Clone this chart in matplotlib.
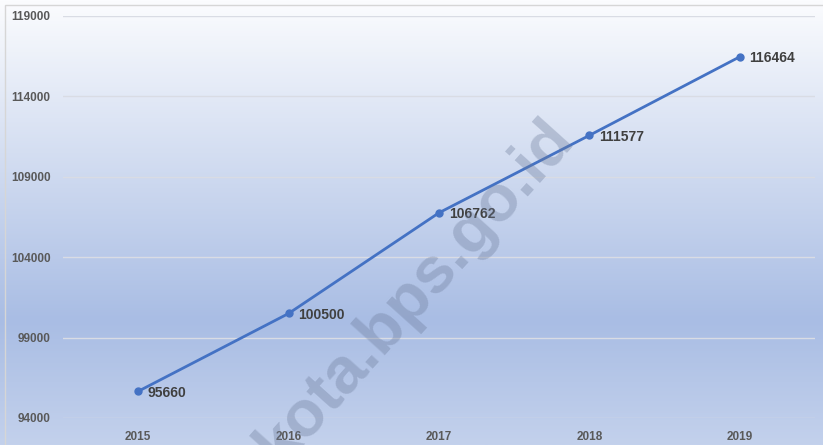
import matplotlib
matplotlib.use("Agg")
import matplotlib.pyplot as plt
from matplotlib.colors import LinearSegmentedColormap
from matplotlib.patches import Rectangle
import numpy as np

years = ["2015", "2016", "2017", "2018", "2019"]
values = [95660, 100500, 106762, 111577, 116464]
yticks = [94000, 99000, 104000, 109000, 114000, 119000]

W, H = 823, 445
fig = plt.figure(figsize=(W / 100, H / 100), dpi=100)

# background gradient over the whole figure
bg = fig.add_axes([0, 0, 1, 1], zorder=0)
cmap = LinearSegmentedColormap.from_list(
    "bg", [(0.0, "#fbfcfe"), (0.08, "#f2f5fb"), (0.72, "#a9bde4"), (1.0, "#c3d1ec")])
grad = np.linspace(0, 1, 256).reshape(-1, 1)
bg.imshow(grad, aspect="auto", cmap=cmap, extent=[0, 1, 0, 1], origin="upper")
bg.add_patch(Rectangle((5 / W, -0.01), 1, 1 - 5 / H + 0.01, fill=False,
                       edgecolor="#d6d6d6", linewidth=1))
bg.set_xlim(0, 1)
bg.set_ylim(0, 1)
bg.axis("off")

ax = fig.add_axes([63 / W, 1 - 418 / H, (815 - 63) / W, (418 - 16) / H], zorder=1)
ax.patch.set_alpha(0)
x = np.arange(len(years))
ax.plot(x, values, color="#4472C4", linewidth=2, marker="o", markersize=5, zorder=3)
for xi, v in zip(x, values):
    ax.annotate(str(v), (xi, v), xytext=(7, -1), textcoords="offset points",
                ha="left", va="center", fontsize=10, fontweight="bold",
                color="#404040", family="Liberation Sans", zorder=4)

ax.set_xlim(-0.5, len(years) - 0.5)
ax.set_ylim(yticks[0], yticks[-1])
ax.set_yticks(yticks)
ax.set_yticklabels([str(t) for t in yticks])
ax.set_xticks(x)
ax.set_xticklabels(years)
for lab in ax.get_xticklabels() + ax.get_yticklabels():
    lab.set_family("Liberation Sans")
    lab.set_fontweight("bold")
    lab.set_fontsize(8.5)
    lab.set_color("#595959")
ax.tick_params(length=0)
ax.tick_params(axis="y", pad=9)
ax.tick_params(axis="x", pad=9)
ax.grid(axis="y", color="#d9dce4", linewidth=1)
ax.set_axisbelow(True)
for s in ax.spines.values():
    s.set_visible(False)

# watermark
fig.text(415 / W, 1 - 292 / H, "kota.bps.go.id", rotation=48, ha="center", va="center",
         fontsize=47, fontweight="bold", color="#6b7a99", alpha=0.35,
         family="Liberation Sans", zorder=2)

fig.savefig("out.png", dpi=100)
